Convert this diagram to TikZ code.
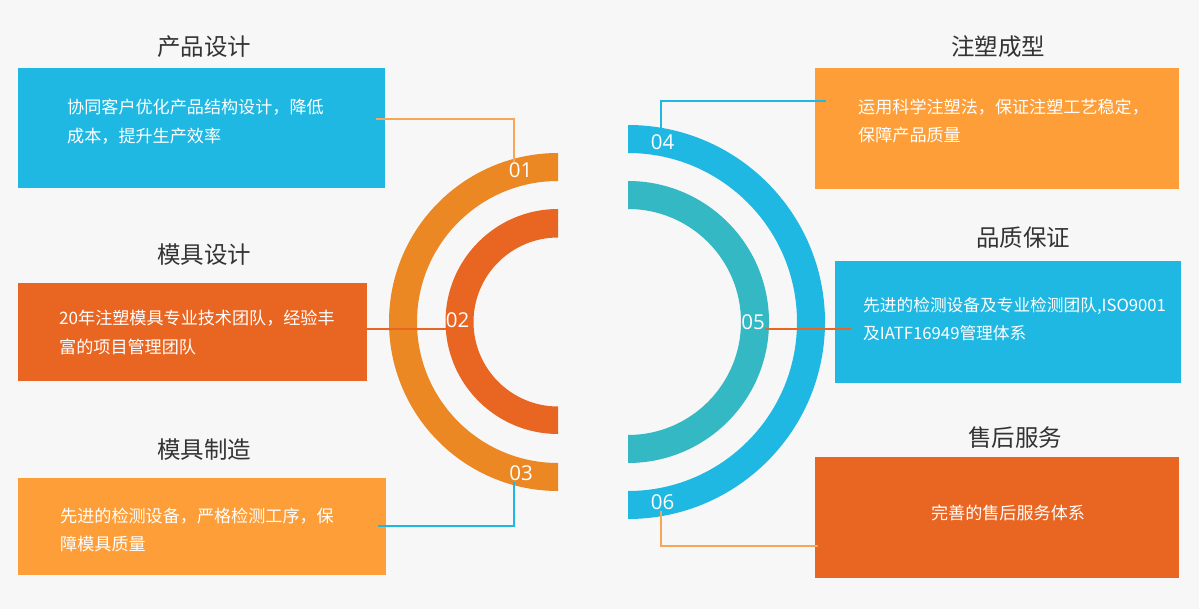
\documentclass[tikz,border=0pt]{standalone}
\usepackage{fontspec}
\setmainfont{Noto Sans CJK SC}
\newfontfamily\numfont{Open Sans}
\definecolor{bg}{HTML}{F7F7F7}
\definecolor{cblue}{HTML}{1FB8E2}
\definecolor{cred}{HTML}{E96522}
\definecolor{corange}{HTML}{FD9E38}
\definecolor{carc}{HTML}{EB8823}
\definecolor{cteal}{HTML}{33B8C4}
\definecolor{ctitle}{HTML}{333333}
\definecolor{clight}{HTML}{F6A656}
\tikzset{
  infobox/.style={draw=none, inner sep=0pt, minimum width=#1},
  boxtext/.style={text=white, font=\fontsize{17.1}{28.5}\selectfont, align=left, inner sep=0pt, anchor=west},
  titletext/.style={text=ctitle, font=\fontsize{23.5}{26}\selectfont, inner sep=0pt},
  numtext/.style={text=white, font=\numfont\fontsize{20.5}{22}\selectfont, inner sep=0pt},
  conn/.style={line width=1.1pt}
}
\begin{document}
\begin{tikzpicture}[x=1pt,y=-1pt]
\useasboundingbox (0,0) rectangle (1199,609);
\fill[bg] (0,0) rectangle (1199,609);

% arcs
\fill[carc] (558,153) arc[start angle=270,end angle=90,radius=169] -- (558,463) arc[start angle=90,end angle=270,radius=141] -- cycle;
\fill[cred] (558,209) arc[start angle=270,end angle=90,radius=112.5] -- (558,406.5) arc[start angle=90,end angle=270,radius=84.5] -- cycle;
\fill[cblue] (628,125) arc[start angle=270,end angle=450,radius=197] -- (628,491) arc[start angle=90,end angle=-90,radius=169] -- cycle;
\fill[cteal] (628,181) arc[start angle=270,end angle=450,radius=141] -- (628,435) arc[start angle=90,end angle=-90,radius=113] -- cycle;

% boxes
\node[infobox=367pt, fill=cblue, minimum height=120pt] (b1) at (201.5,128) {};
\node[infobox=349pt, fill=cred, minimum height=97pt] (b2) at (192.5,332) {};
\node[infobox=368pt, fill=corange, minimum height=97pt] (b3) at (202,526.5) {};
\node[infobox=364pt, fill=corange, minimum height=121pt] (b4) at (997,128.5) {};
\node[infobox=346pt, fill=cblue, minimum height=122pt] (b5) at (1008,322) {};
\node[infobox=364pt, fill=cred, minimum height=121pt] (b6) at (997,517.5) {};

% titles
\node[titletext] (t1) at (204,47) {产品设计};
\node[titletext] (t2) at (204,255) {模具设计};
\node[titletext] (t3) at (204,450) {模具制造};
\node[titletext] (t4) at (998,47) {注塑成型};
\node[titletext] (t5) at (1023,238) {品质保证};
\node[titletext] (t6) at (1015,438) {售后服务};

% box texts
\node[boxtext] (x1) at (67,121.5) {协同客户优化产品结构设计，降低\\成本，提升生产效率};
\node[boxtext] (x2) at (59,332.5) {20年注塑模具专业技术团队，经验丰\\富的项目管理团队};
\node[boxtext] (x3) at (60,530) {先进的检测设备，严格检测工序，保\\障模具质量};
\node[boxtext] (x4) at (858,121) {运用科学注塑法，保证注塑工艺稳定，\\保障产品质量};
\node[boxtext, font=\fontsize{16.7}{28.5}\selectfont] (x5) at (863,319) {先进的检测设备及专业检测团队,ISO9001\\及IATF16949管理体系};
\node[boxtext, anchor=center] (x6) at (1008,513) {完善的售后服务体系};

% numbers
\node[numtext] (n1) at (520.5,170.5) {01};
\node[numtext] (n2) at (457.5,320) {02};
\node[numtext] (n3) at (521,473.5) {03};
\node[numtext] (n4) at (662.5,142) {04};
\node[numtext] (n5) at (753,322.5) {05};
\node[numtext] (n6) at (662.5,502.5) {06};

% connector endpoints
\coordinate (c1) at (376,119);
\coordinate (c3) at (378,526);
\coordinate (c4) at (826,101);
\coordinate (c5) at (851,329);
\coordinate (c6) at (818,546);

\draw[conn, clight] (c1) -| ([xshift=-6.5pt,yshift=1pt]n1.north);
\draw[conn, cred] ([yshift=3pt]b2.east) -- ([yshift=-9pt]n2.west);
\draw[conn, cblue] (c3) -| ([xshift=-7pt,yshift=-1pt]n3.south);
\draw[conn, cblue] (c4) -| ([xshift=-1.5pt,yshift=1pt]n4.north);
\draw[conn, cred] (c5) -- ([yshift=-6.5pt]n5.east);
\draw[conn, clight] (c6) -| ([xshift=-1.5pt,yshift=-1pt]n6.south);
\end{tikzpicture}
\end{document}
